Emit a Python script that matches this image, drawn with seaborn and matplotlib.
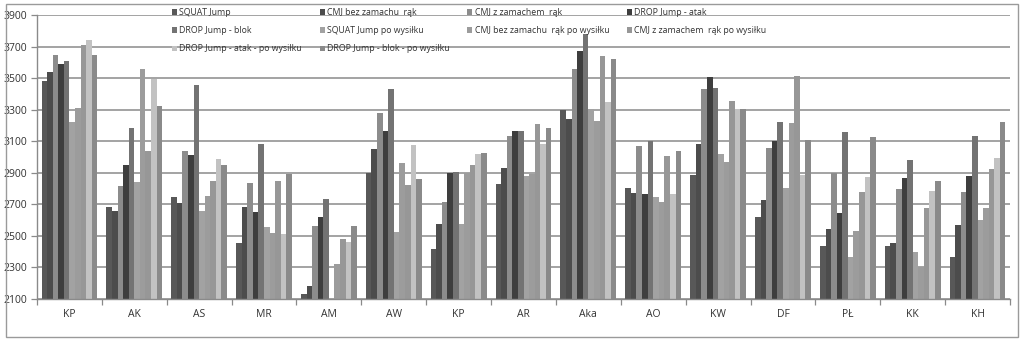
import matplotlib
matplotlib.use("Agg")
import matplotlib.pyplot as plt
from matplotlib.patches import Rectangle
from matplotlib.ticker import FixedLocator
import seaborn as sns
import pandas as pd
import numpy as np

categories = ["KP", "AK", "AS", "MR", "AM", "AW", "KP", "AR", "Aka", "AO", "KW", "DF", "PŁ", "KK", "KH"]

series_names = [
    "SQUAT Jump",
    "CMJ bez zamachu  rąk",
    "CMJ z zamachem  rąk",
    "DROP Jump - atak",
    "DROP Jump - blok",
    "SQUAT Jump po wysiłku",
    "CMJ bez zamachu  rąk po wysiłku",
    "CMJ z zamachem  rąk po wysiłku",
    "DROP Jump - atak - po wysiłku",
    "DROP Jump - blok - po wysiłku",
]

squat_jump        = [3483, 2684, 2745, 2452, 2130, 2901, 2418, 2831, 3295, 2806, 2884, 2619, 2435, 2435, 2369]
cmj_bez           = [3540, 2657, 2711, 2684, 2180, 3051, 2574, 2928, 3240, 2774, 3080, 2730, 2541, 2458, 2568]
cmj_z             = [3645, 2817, 3040, 2836, 2560, 3278, 2713, 3135, 3556, 3070, 3434, 3057, 2901, 2796, 2777]
drop_atak         = [3590, 2952, 3011, 2650, 2617, 3162, 2901, 3162, 3672, 2764, 3506, 3099, 2642, 2869, 2880]
drop_blok         = [3611, 3186, 3455, 3084, 2735, 3430, 2905, 3162, 3778, 3099, 3438, 3223, 3158, 2981, 3135]
squat_po          = [3221, 2844, 2657, 2557, 2098, 2526, 2578, 2882, 3306, 2747, 3019, 2806, 2369, 2397, 2598]
cmj_bez_po        = [3310, 3556, 2751, 2520, 2324, 2962, 2899, 2893, 3228, 2713, 2966, 3217, 2530, 2302, 2676]
cmj_z_po          = [3710, 3035, 2846, 2846, 2480, 2823, 2952, 3211, 3639, 3009, 3356, 3516, 2777, 2676, 2924]
drop_atak_po      = [3742, 3495, 2990, 2513, 2463, 3074, 3019, 3084, 3350, 2768, 3306, 2884, 2876, 2785, 2996]
drop_blok_po      = [3645, 3325, 2952, 2893, 2562, 2861, 3025, 3186, 3618, 3040, 3306, 3108, 3124, 2846, 3223]

all_series = [squat_jump, cmj_bez, cmj_z, drop_atak, drop_blok,
              squat_po, cmj_bez_po, cmj_z_po, drop_atak_po, drop_blok_po]

colors = ["#585858", "#4c4c4c", "#8c8c8c", "#3e3e3e", "#737373",
          "#a2a2a2", "#9c9c9c", "#979797", "#c2c2c2", "#8a8a8a"]

group_keys = [f"g{i}" for i in range(len(categories))]
rows = []
for name, vals in zip(series_names, all_series):
    for key, v in zip(group_keys, vals):
        rows.append({"group": key, "value": v, "series": name})
df = pd.DataFrame(rows)

sns.set_theme(style="white")
plt.rcParams["font.family"] = ["Open Sans", "DejaVu Sans"]

fig = plt.figure(figsize=(10.23, 3.44), dpi=100)
ax = fig.add_axes([37/1023, 1 - 299/344, (1010-37)/1023, (299-15)/344])

sns.barplot(data=df, x="group", y="value", hue="series", order=group_keys,
            hue_order=series_names, palette=colors, saturation=1,
            width=0.86, dodge=True, errorbar=None, ax=ax, linewidth=0)

ax.set_ylim(2100, 3900)
ax.set_xlim(-0.5, len(categories) - 0.5)
ax.set_yticks(np.arange(2100, 3901, 200))
ax.yaxis.grid(True, color="#8a8a8a", linewidth=1.1)
ax.set_axisbelow(True)
ax.set_xlabel("")
ax.set_ylabel("")

ax.set_xticks(range(len(categories)))
ax.set_xticklabels(categories)
ax.xaxis.set_minor_locator(FixedLocator(np.arange(-0.5, len(categories), 1.0)))
ax.tick_params(axis="x", which="major", length=0, pad=7, labelsize=7.5, colors="#333333")
ax.tick_params(axis="x", which="minor", length=4, width=0.9, color="#8a8a8a", direction="out", bottom=True)
ax.tick_params(axis="y", which="major", length=4, width=0.9, color="#8a8a8a", direction="out",
               left=True, labelsize=7.5, labelcolor="#333333", pad=3)

for s in ["top", "right"]:
    ax.spines[s].set_visible(False)
for s in ["left", "bottom"]:
    ax.spines[s].set_color("#8a8a8a")
    ax.spines[s].set_linewidth(1.0)

handles, labels = ax.get_legend_handles_labels()
if ax.get_legend() is not None:
    ax.get_legend().remove()
order = [0, 4, 8, 1, 5, 9, 2, 6, 3, 7]
leg = fig.legend([handles[i] for i in order], [labels[i] for i in order],
                 ncol=4, loc="upper left", bbox_to_anchor=(172/1023, 1 - 8/344),
                 frameon=False, fontsize=6.3, handlelength=0.6, handleheight=0.6,
                 handletextpad=0.25, labelspacing=1.05, columnspacing=2.0,
                 borderpad=0, borderaxespad=0)
for t in leg.get_texts():
    t.set_color("#333333")

fig.patches.append(Rectangle((6/1023, 1 - 337/344), (1018-6)/1023, (337-4)/344,
                             transform=fig.transFigure, fill=False,
                             edgecolor="#9a9a9a", linewidth=1.0))

fig.savefig("out.png", dpi=100)
